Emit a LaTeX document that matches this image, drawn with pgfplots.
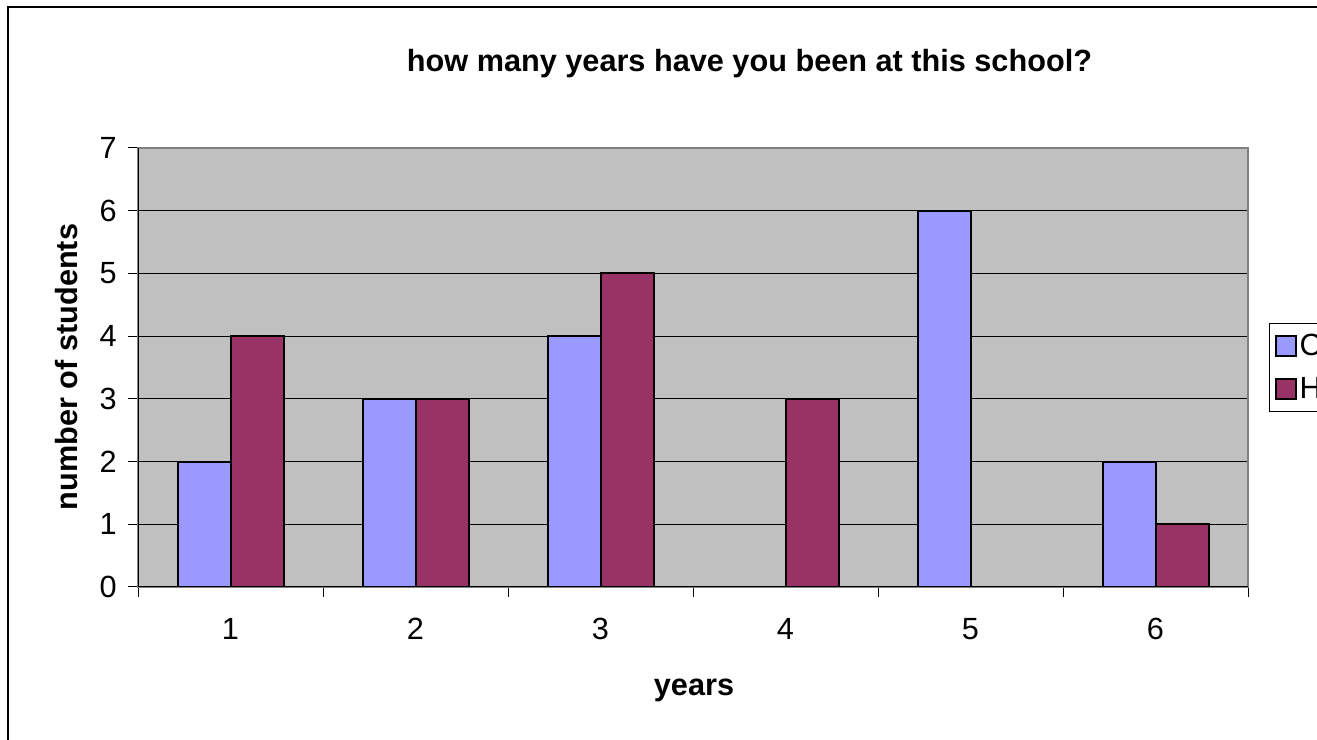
\documentclass[border=0pt]{standalone}
\usepackage{fontspec}
\setmainfont{Liberation Sans}
\usepackage{pgfplots}
\pgfplotsset{compat=1.18}
\definecolor{barblue}{HTML}{9999FF}
\definecolor{barred}{HTML}{993366}
\definecolor{plotbg}{HTML}{C0C0C0}
\definecolor{framegray}{HTML}{808080}
\begin{document}
\begin{tikzpicture}
\begin{scope}[x=0.75pt,y=0.75pt]
\path[use as bounding box] (0,0) rectangle (1317,739);
\clip (0,0) rectangle (1317,739);
\draw[black, line width=1.5pt] (8,-20) -- (8,732) -- (1340,732);
\node[anchor=base, font=\fontsize{23}{27}\selectfont\bfseries] at (749.5,667) {how many years have you been at this school?};
\node[anchor=base, font=\fontsize{23}{27}\selectfont\bfseries] at (694,44) {years};
\node[anchor=base, rotate=90, font=\fontsize{23}{27}\selectfont\bfseries] at (77,372) {number of students};
\end{scope}
\clip (0pt,0pt) rectangle (987.75pt,554.25pt);
\begin{axis}[
  at={(103.5pt,114pt)}, anchor=south west,
  scale only axis, width=832.5pt, height=329.25pt,
  xmin=0.5, xmax=6.5, ymin=0, ymax=7,
  axis background/.style={fill=plotbg},
  axis line style={draw=framegray, line width=1.5pt},
  ytick={0,...,7},
  ymajorgrids, grid style={black, line width=0.75pt},
  tick align=outside, tick pos=left,
  major tick length=7.5pt,
  tick style={black, line width=0.75pt},
  yticklabel style={xshift=-5pt},
  xtick={0.5,1.5,...,6.5}, xticklabels={},
  extra x ticks={1,2,3,4,5,6}, extra x tick labels={1,2,3,4,5,6},
  extra x tick style={major tick length=0pt, grid=none, xticklabel style={yshift=-20pt}},
  ticklabel style={font=\fontsize{23}{27}\selectfont},
  /pgf/number format/assume math mode=true,
  legend style={at={(1.019,0.601)}, anchor=north west, draw=black, line width=0.75pt, fill=white,
    font=\fontsize{23}{27}\selectfont, inner xsep=4pt, inner ysep=6pt, row sep=11pt},
  legend image code/.code={\draw[#1] (0pt,-7.5pt) rectangle (15pt,7.5pt);},
]
\addplot[ybar, bar width=39.75pt, bar shift=-19.875pt, fill=barblue, draw=black, line width=1.5pt]
  coordinates {(1,2) (2,3) (3,4) (5,6) (6,2)};
\addlegendentry{C}
\addplot[ybar, bar width=39.75pt, bar shift=19.875pt, fill=barred, draw=black, line width=1.5pt]
  coordinates {(1,4) (2,3) (3,5) (4,3) (6,1)};
\addlegendentry{H}
\draw[black, line width=1.5pt] (rel axis cs:0,1) -- (rel axis cs:0,0) -- (rel axis cs:1,0);
\end{axis}
\end{tikzpicture}
\end{document}
